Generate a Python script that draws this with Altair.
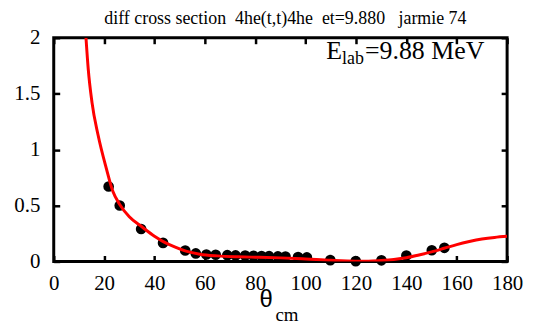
import altair as alt
import pandas as pd

# experimental points (theta_cm in deg, cross section)
theta_exp = [21.8, 26.2, 34.7, 43.4, 52.2, 56.4, 60.6, 64.3, 68.9, 72.2, 76.0, 79.3,
             82.5, 85.5, 89.0, 92.0, 97.0, 100.5, 109.8, 119.9, 130.1, 140.0, 150.1, 155.1]
xs_exp = [0.67, 0.50, 0.29, 0.166, 0.098, 0.072, 0.062, 0.060, 0.056, 0.054, 0.052, 0.050,
          0.048, 0.047, 0.045, 0.044, 0.040, 0.036, 0.012, 0.003, 0.010, 0.053, 0.100, 0.122]

# fitted curve
theta_fit = [12.8, 13.7, 15.2, 17.6, 20.9, 23.5, 26.2, 30, 35, 40, 43.3, 48, 52.5, 58, 65,
             73, 80, 90, 100, 110, 120, 125, 130, 135, 140, 145, 150, 155, 160, 165, 170, 175, 180]
xs_fit = [2.0, 1.72, 1.42, 1.13, 0.83, 0.625, 0.51, 0.40, 0.31, 0.225, 0.18, 0.13, 0.092, 0.065,
          0.05, 0.042, 0.038, 0.032, 0.022, 0.01, 0.003, 0.003, 0.009, 0.018, 0.033, 0.058,
          0.086, 0.118, 0.151, 0.178, 0.20, 0.215, 0.225]

x_ticks = [0, 20, 40, 60, 80, 100, 120, 140, 160, 180]
y_ticks = [0, 0.5, 1, 1.5, 2]

NB = "\u00a0"
title_text = f"diff cross section {NB}4he(t,t)4he {NB}et=9.880 {NB}{NB}jarmie 74"

exp_df = pd.DataFrame({"theta": theta_exp, "xs": xs_exp})
fit_df = pd.DataFrame({"theta": theta_fit, "xs": xs_fit})

SERIF = "Liberation Serif"
SANS = "Liberation Sans"
xscale = alt.Scale(domain=[0, 180], nice=False, zero=False)
yscale = alt.Scale(domain=[0, 2], nice=False, zero=False)

common_axis = dict(domain=False, grid=False, offset=-6, tickSize=6, tickWidth=2.5,
                   tickColor="black", labelFont=SERIF, labelFontSize=21,
                   labelColor="black", labelFlush=False, labelOverlap=False, title=None)

points = alt.Chart(exp_df).mark_circle(size=115, color="black", opacity=1).encode(
    x=alt.X("theta:Q", scale=xscale,
            axis=alt.Axis(orient="bottom", values=x_ticks, labelPadding=11, **common_axis)),
    y=alt.Y("xs:Q", scale=yscale,
            axis=alt.Axis(orient="left", values=y_ticks, format="~g", labelPadding=14, **common_axis)),
)

line = alt.Chart(fit_df).mark_line(color="#ff0000", strokeWidth=3, interpolate="monotone", clip=True).encode(
    x=alt.X("theta:Q", scale=xscale,
            axis=alt.Axis(orient="top", values=x_ticks, labels=False, **common_axis)),
    y=alt.Y("xs:Q", scale=yscale,
            axis=alt.Axis(orient="right", values=y_ticks, labels=False, **common_axis)),
)

one = pd.DataFrame({"a": [0]})

def txt(s, x, y, size, font=SERIF, align="left"):
    return alt.Chart(one).mark_text(text=s, font=font, fontSize=size, align=align,
                                    baseline="alphabetic", color="black").encode(
        x=alt.value(x), y=alt.value(y))

title = txt(title_text, 233, -14, 18, align="center")
e_main = txt("=9.88 MeV", 313, 21, 26)
e_sub = txt("lab", 312, 26, 18, align="right")
e_E = txt("E", 290, 21, 26, align="right")
th = txt("θ", 207, 271, 24, font=SANS)
cm = txt("cm", 223, 285, 19)

chart = alt.layer(points, line, title, e_main, e_sub, e_E, th, cm).resolve_axis(
    x="independent", y="independent"
).properties(
    width=456, height=225,
    autosize=alt.AutoSizeParams(type="none"),
    padding={"left": 46, "top": 29, "right": 20, "bottom": 66},
).configure_view(stroke="black", strokeWidth=3)

chart.save("out.html", embed_options={"renderer": "svg", "actions": False})
